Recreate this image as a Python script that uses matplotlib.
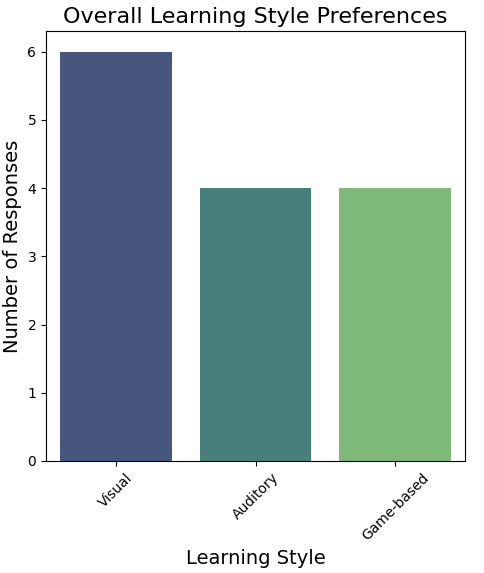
import matplotlib
matplotlib.use("Agg")
import matplotlib.pyplot as plt
import seaborn as sns
import pandas as pd

# learning style counts
styles = ["Visual", "Auditory", "Game-based"]
counts = [6, 4, 4]
# muted viridis colours as seen in the reference
bar_colors = ["#46567f", "#47807b", "#7eb977"]

df = pd.DataFrame({"Learning Style": styles, "Number of Responses": counts})

fig = plt.figure(figsize=(4.84, 5.73), dpi=100)
ax = fig.add_axes([0.095, 0.1955, 0.866, 0.750])

sns.barplot(data=df, x="Learning Style", y="Number of Responses",
            hue="Learning Style", palette=bar_colors, saturation=1,
            legend=False, ax=ax)

ax.set_title("Overall Learning Style Preferences", fontsize=16)
ax.set_xlabel("Learning Style", fontsize=14)
ax.set_ylabel("Number of Responses", fontsize=14)
plt.setp(ax.get_xticklabels(), rotation=45)

fig.savefig("out.png", dpi=100)
